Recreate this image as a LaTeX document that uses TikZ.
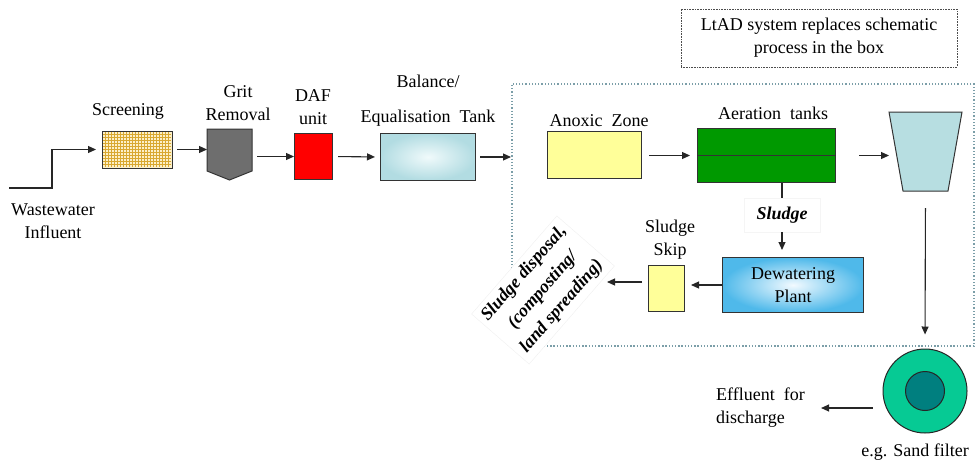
\documentclass[tikz,border=0pt]{standalone}
\usepackage{fontspec}
\setmainfont{Liberation Serif}
\usetikzlibrary{arrows.meta,calc}
\definecolor{scrbg}{HTML}{FCF0C8}
\definecolor{gridc}{HTML}{D9A830}
\definecolor{gritc}{HTML}{6E6E6E}
\definecolor{dafred}{HTML}{FF0000}
\definecolor{balout}{HTML}{B2DCE2}
\definecolor{balin}{HTML}{F0FAFB}
\definecolor{anoxc}{HTML}{FFFF99}
\definecolor{aerc}{HTML}{009900}
\definecolor{clarc}{HTML}{B7DEE1}
\definecolor{dewout}{HTML}{4FB9EA}
\definecolor{dewin}{HTML}{F2FAFF}
\definecolor{filtout}{HTML}{06CA94}
\definecolor{filtin}{HTML}{007F7F}
\definecolor{sysc}{HTML}{7B9EA8}
\begin{document}
\begin{tikzpicture}[x=1pt,y=-1pt,
  txt/.style={font=\fontsize{18}{23}\selectfont, align=center, inner sep=1pt},
  unit/.style={draw=black!80, line width=1pt, inner sep=0pt, anchor=north west},
  arr/.style={-{Triangle[length=8pt,width=7pt]}, line width=1.1pt, black!85},
  ln/.style={line width=1.1pt, black!85}]
\useasboundingbox (0,0) rectangle (976,466);

% system box (dotted)
\node[draw=sysc, line width=1.6pt, dash pattern=on 1.3pt off 1.9pt, inner sep=0pt,
      minimum width=462pt, minimum height=262pt, anchor=north west] (sys) at (511,83) {};

% LtAD note
\node[draw=black!70, line width=0.8pt, dash pattern=on 0.8pt off 0.8pt,
      minimum width=276pt, minimum height=58pt, txt] (note) at (819,38)
      {LtAD system replaces schematic\\process in the box};

% units
\node[unit, draw=none, minimum width=69pt, minimum height=36pt] (screen) at (102,131) {};
\fill[scrbg] (screen.north west) rectangle (screen.south east);
\foreach \i in {1,...,22} \draw[gridc, line width=0.45pt] ($(screen.north west)+(3*\i,0)$) -- ++(0,36);
\foreach \j in {1,...,11} \draw[gridc, line width=0.45pt] ($(screen.north west)+(0,3*\j)$) -- ++(69,0);
\draw[black!80, line width=1pt] (screen.north west) rectangle (screen.south east);

\node[unit, draw=none, minimum width=44pt, minimum height=50pt] (grit) at (207,129) {};
\draw[black!80, line width=1pt, fill=gritc] (grit.north west) -- (grit.north east)
  -- ($(grit.south east)+(0,-9)$) -- (grit.south) -- ($(grit.south west)+(0,-9)$) -- cycle;

\node[unit, fill=dafred, minimum width=38pt, minimum height=46pt] (daf) at (294,133) {};
\node[unit, inner color=balin, outer color=balout, minimum width=95pt, minimum height=47pt] (bal) at (380,133) {};
\node[unit, fill=anoxc, minimum width=94pt, minimum height=47pt] (anox) at (547,131) {};
\node[unit, fill=aerc, minimum width=138pt, minimum height=54pt] (aer) at (697,128) {};
\draw[black!80, line width=1pt] (aer.west) -- (aer.east);

\node[unit, draw=none, minimum width=72pt, minimum height=78pt] (clar) at (889,112) {};
\draw[black!80, line width=1pt, fill=clarc] (clar.north west) -- (clar.north east)
  -- ($(clar.south east)+(-14,0)$) -- ($(clar.south west)+(14,0)$) -- cycle;

\node[unit, inner color=dewin, outer color=dewout, minimum width=141pt, minimum height=55pt, txt, anchor=north west] (dew) at (722,257) {Dewatering\\Plant};
\node[unit, fill=anoxc, minimum width=36pt, minimum height=46pt] (skip) at (648,265) {};

\node[circle, draw=black!85, line width=1pt, fill=filtout, minimum size=84pt, inner sep=0pt] (filter) at (925,391) {};
\node[circle, draw=black!85, line width=1pt, fill=filtin, minimum size=39pt, inner sep=0pt] (filtcore) at (filter.center) {};

% labels
\node[txt] (lwaste) at (53,221) {Wastewater\\Influent};
\node[txt] (lscr) at (128,111) {Screening};
\node[txt] (lgrit) at (238,103) {Grit\\Removal};
\node[txt] (ldaf) at (313,107) {DAF\\unit};
\node[txt] (lbal) at (428,101) {Balance/\\[12pt]Equalisation~ Tank};
\node[txt] (lanox) at (599,121) {Anoxic~ Zone};
\node[txt] (laer) at (773,113) {Aeration~ tanks};
\node[txt, font=\fontsize{18}{23}\selectfont\bfseries\itshape, draw=black!4, fill=white,
      minimum width=76pt, minimum height=34pt] (sludge) at (782,215) {Sludge};
\node[txt] (lskip) at (670,240) {Sludge\\Skip};
\node[txt, align=left, anchor=west] (eff) at (715,408) {Effluent~ for\\discharge};
\node[txt] (lsand) at (915,452) {e.g. Sand filter};
\node[txt, font=\fontsize{18}{25}\selectfont\bfseries\itshape, draw=black!6, fill=white,
      rotate=49, inner sep=5pt] (disp) at (543,290) {Sludge disposal,\\(composting/\\land spreading)};

% connectors
\coordinate (inf) at (9,188);
\coordinate (dispin) at (607,282);
\draw[arr, shorten >=6pt] (inf) -- ++(43,0) |- (screen.west);
\draw[arr, shorten <=5pt] (screen.east) -- (screen.east -| grit.west);
\draw[arr, shorten <=5pt] (grit.east |- daf.west) -- (daf.west);
\draw[arr, shorten <=5pt, shorten >=5pt] (daf.east) -- (bal.west);
\draw[arr, shorten <=4pt] (bal.east) -- (bal.east -| sys.west);
\draw[arr, shorten <=7pt, shorten >=7pt] (anox.east |- aer.west) -- (aer.west);
\draw[arr, shorten <=23pt] (aer.east) -- (aer.east -| clar.west);
\draw[ln] (aer.south -| sludge.north) -- (sludge.north);
\draw[arr, shorten >=7pt] (sludge.south) -- (sludge.south |- dew.north);
\draw[arr, shorten >=6pt] (dew.west) -- (dew.west -| skip.east);
\draw[arr, shorten <=6pt] (skip.west |- dispin) -- (dispin);
\draw[arr, shorten <=17pt, shorten >=14pt] (clar.south) -- (filter.north);
\draw[arr, shorten <=10pt, shorten >=15pt] (eff.east -| filter.west) -- (eff.east);
\end{tikzpicture}
\end{document}
